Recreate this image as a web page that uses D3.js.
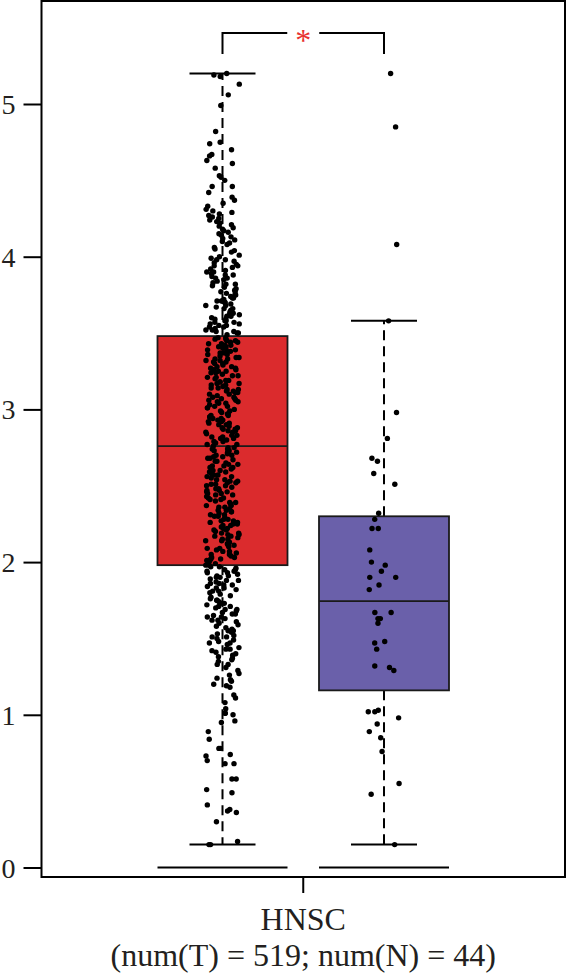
<!DOCTYPE html>
<html>
<head>
<meta charset="utf-8">
<script src="https://cdn.jsdelivr.net/npm/d3@7"></script>
<style>
  html, body { margin: 0; padding: 0; background: #fff; }
  text { font-family: "Liberation Serif", "DejaVu Serif", serif; fill: #231f20; }
</style>
</head>
<body>
<svg id="chart"></svg>
<script>
// Categories and box statistics
const groups = ["Tumor", "Normal"];
const cancerType = ["HNSC"];
const xLabelLines = ["HNSC", "(num(T) = 519; num(N) = 44)"];
const yTicks = [0, 1, 2, 3, 4, 5];
const floorValue = [0, 0];
const lowerWhisker = [0.15, 0.15];
const q1 = [1.98, 1.16];
const median = [2.76, 1.745];
const q3 = [3.48, 2.30];
const upperWhisker = [5.20, 3.58];
const signifLabel = "*";

// Tumor samples (519)
const tumorValues = [
  0.15, 0.15, 0.17, 0.30, 0.36, 0.37, 0.38, 0.41, 0.49, 0.51, 0.58, 0.58,
  0.68, 0.68, 0.70, 0.73, 0.74, 0.78, 0.78, 0.89, 0.95, 0.96, 0.84,
  1.00, 1.01, 1.01, 1.04, 1.08, 1.11, 1.13, 1.18, 1.19, 1.20,
  1.22, 1.23, 1.26, 1.27, 1.31, 1.33, 1.33, 1.35, 1.36, 1.37, 1.38, 1.39, 1.24, 1.29,
  1.40, 1.41, 1.43, 1.43, 1.44, 1.46, 1.47, 1.47, 1.48, 1.50, 1.51, 1.51,
  1.52, 1.53, 1.55, 1.55, 1.56, 1.57, 1.58, 1.59, 1.42, 1.49, 1.54, 1.60,
  1.61, 1.62, 1.62, 1.63, 1.64, 1.65, 1.66, 1.66, 1.67, 1.68, 1.69, 1.70, 1.71,
  1.71, 1.72, 1.73, 1.74, 1.75, 1.75, 1.76, 1.77, 1.78, 1.79, 1.64, 1.69, 1.73,
  1.80, 1.81, 1.81, 1.82, 1.83, 1.83, 1.84, 1.85, 1.86, 1.86, 1.87, 1.88, 1.88, 1.89,
  1.90, 1.91, 1.91, 1.92, 1.93, 1.93, 1.94, 1.95, 1.95, 1.96, 1.97, 1.97, 1.98, 1.99,
  1.85, 1.90, 1.94, 1.98,
  2.00, 2.01, 2.02, 2.02, 2.03, 2.04, 2.05, 2.05, 2.06, 2.07, 2.08, 2.09, 2.09,
  2.10, 2.11, 2.12, 2.12, 2.13, 2.14, 2.15, 2.15, 2.16, 2.17, 2.18, 2.18, 2.19,
  2.03, 2.07, 2.11, 2.14, 2.17, 2.01, 2.19,
  2.20, 2.21, 2.21, 2.22, 2.23, 2.24, 2.24, 2.25, 2.26, 2.27, 2.27, 2.28, 2.29, 2.30,
  2.30, 2.31, 2.32, 2.33, 2.33, 2.34, 2.35, 2.36, 2.36, 2.37, 2.38, 2.39, 2.39,
  2.22, 2.25, 2.28, 2.31, 2.34, 2.37, 2.26,
  2.40, 2.41, 2.41, 2.42, 2.43, 2.44, 2.44, 2.45, 2.46, 2.47, 2.47, 2.48, 2.49, 2.50,
  2.50, 2.51, 2.52, 2.53, 2.53, 2.54, 2.55, 2.56, 2.56, 2.57, 2.58, 2.59, 2.59,
  2.42, 2.45, 2.48, 2.51, 2.54, 2.57, 2.46, 2.52,
  2.60, 2.60, 2.61, 2.62, 2.62, 2.63, 2.64, 2.64, 2.65, 2.66, 2.66, 2.67, 2.68, 2.68,
  2.69, 2.70, 2.70, 2.71, 2.72, 2.72, 2.73, 2.73, 2.74, 2.74, 2.75, 2.75, 2.63, 2.69,
  2.76, 2.77, 2.77, 2.78, 2.79, 2.79,
  2.80, 2.81, 2.81, 2.82, 2.83, 2.83, 2.84, 2.85, 2.86, 2.86, 2.87, 2.88, 2.88, 2.89,
  2.90, 2.91, 2.91, 2.92, 2.93, 2.93, 2.94, 2.95, 2.95, 2.96, 2.97, 2.97, 2.98, 2.99,
  2.82, 2.85, 2.87, 2.90, 2.92, 2.94, 2.96, 2.99,
  3.00, 3.01, 3.01, 3.02, 3.03, 3.04, 3.04, 3.05, 3.06, 3.07, 3.07, 3.08, 3.09, 3.10,
  3.10, 3.11, 3.12, 3.13, 3.13, 3.14, 3.15, 3.16, 3.16, 3.17, 3.18, 3.19, 3.19,
  3.02, 3.05, 3.08, 3.11, 3.14, 3.17, 3.06, 3.12, 3.18,
  3.20, 3.21, 3.21, 3.22, 3.23, 3.24, 3.24, 3.25, 3.26, 3.27, 3.27, 3.28, 3.29, 3.30,
  3.30, 3.31, 3.32, 3.33, 3.33, 3.34, 3.35, 3.36, 3.36, 3.37, 3.38, 3.39, 3.39,
  3.22, 3.25, 3.28, 3.31, 3.34, 3.37, 3.26, 3.32, 3.38,
  3.40, 3.40, 3.41, 3.41, 3.42, 3.42, 3.43, 3.43, 3.44, 3.44, 3.45, 3.45, 3.46, 3.46, 3.47, 3.47,
  3.49, 3.50, 3.50, 3.51, 3.52, 3.52, 3.53, 3.54, 3.54, 3.55, 3.56, 3.56, 3.57, 3.57,
  3.58, 3.58, 3.59, 3.59, 3.51, 3.55,
  3.60, 3.61, 3.61, 3.62, 3.63, 3.63, 3.64, 3.65, 3.66, 3.66, 3.67, 3.68, 3.68, 3.69, 3.70,
  3.71, 3.71, 3.72, 3.73, 3.73, 3.74, 3.75, 3.75, 3.76, 3.77, 3.77, 3.78, 3.79, 3.70,
  3.80, 3.81, 3.82, 3.82, 3.83, 3.84, 3.85, 3.86, 3.86, 3.87, 3.88, 3.89, 3.90,
  3.90, 3.91, 3.92, 3.93, 3.94, 3.94, 3.95, 3.96, 3.97, 3.98, 3.98, 3.99, 3.88,
  4.00, 4.01, 4.03, 4.04, 4.05, 4.06, 4.08, 4.09, 4.10, 4.11, 4.12, 4.13, 4.14, 4.15, 4.16, 4.17, 4.18, 4.19,
  4.20, 4.21, 4.22, 4.23, 4.24, 4.25, 4.26, 4.27, 4.28, 4.29, 4.30, 4.31, 4.33, 4.35, 4.37, 4.39,
  4.46, 4.46, 4.52, 4.53, 4.58, 4.42, 4.50,
  4.61, 4.63, 4.66, 4.67, 4.74, 4.75, 4.70,
  4.82, 4.99,
  5.06, 5.13, 5.18, 5.20, 5.19
];

// Normal samples (44)
const normalValues = [
  5.20, 4.85, 4.08, 3.58,
  2.98, 2.81, 2.68, 2.66, 2.58, 2.51, 2.32, 2.28, 2.22, 2.22, 2.08, 2.00, 1.98, 1.94,
  1.90, 1.90, 1.85, 1.82,
  1.67, 1.67, 1.63, 1.60, 1.63, 1.48, 1.47, 1.43, 1.32, 1.31, 1.29,
  1.02, 1.03, 1.02, 0.98, 0.94, 0.89, 0.85, 0.76, 0.55, 0.48, 0.15
];

const width = 566, height = 980;
const frame = { left: 41.5, right: 565, top: 1, bottom: 877 };

const svg = d3.select("#chart").attr("width", width).attr("height", height);

// Scales
const y = d3.scaleLinear().domain([0, 5]).range([867.5, 104]);
const xGroup = d3.scalePoint().domain(groups).range([222.5, 384]);
const xCat = d3.scaleBand().domain(cancerType).range([frame.left, frame.right]);

const boxWidth = 130, capWidth = 66;
const fills = ["#db2b2d", "#6a60aa"];

// simple seeded generator for the horizontal jitter
function mulberry32(a) {
  return function () {
    a |= 0; a = a + 0x6D2B79F5 | 0;
    let t = Math.imul(a ^ a >>> 15, 1 | a);
    t = t + Math.imul(t ^ t >>> 7, 61 | t) ^ t;
    return ((t ^ t >>> 14) >>> 0) / 4294967296;
  };
}
const rand = mulberry32(20240521);

// Boxes
const boxes = groups.map((g, i) => ({
  g, i, lo: lowerWhisker[i], q1: q1[i], med: median[i], q3: q3[i], hi: upperWhisker[i], floor: floorValue[i]
}));

const gBox = svg.append("g");

// dashed whiskers
gBox.selectAll("line.whiskerUp")
  .data(boxes).join("line")
  .attr("x1", d => xGroup(d.g)).attr("x2", d => xGroup(d.g))
  .attr("y1", d => y(d.q3)).attr("y2", d => y(d.hi))
  .attr("stroke", "#000").attr("stroke-width", 2).attr("stroke-dasharray", "10,6");
gBox.selectAll("line.whiskerDown")
  .data(boxes).join("line")
  .attr("x1", d => xGroup(d.g)).attr("x2", d => xGroup(d.g))
  .attr("y1", d => y(d.q1)).attr("y2", d => y(d.lo))
  .attr("stroke", "#000").attr("stroke-width", 2).attr("stroke-dasharray", "10,6");

// caps
["hi", "lo"].forEach(k => {
  gBox.selectAll("line.cap" + k)
    .data(boxes).join("line")
    .attr("x1", d => xGroup(d.g) - capWidth / 2).attr("x2", d => xGroup(d.g) + capWidth / 2)
    .attr("y1", d => y(d[k])).attr("y2", d => y(d[k]))
    .attr("stroke", "#000").attr("stroke-width", 2);
});

// floor lines
gBox.selectAll("line.floor")
  .data(boxes).join("line")
  .attr("x1", d => xGroup(d.g) - boxWidth / 2).attr("x2", d => xGroup(d.g) + boxWidth / 2)
  .attr("y1", d => y(d.floor)).attr("y2", d => y(d.floor))
  .attr("stroke", "#000").attr("stroke-width", 2);

// box rects
gBox.selectAll("rect")
  .data(boxes).join("rect")
  .attr("x", d => xGroup(d.g) - boxWidth / 2)
  .attr("width", boxWidth)
  .attr("y", d => y(d.q3))
  .attr("height", d => y(d.q1) - y(d.q3))
  .attr("fill", d => fills[d.i])
  .attr("stroke", "#1a1a1a").attr("stroke-width", 1.8);

// median lines
gBox.selectAll("line.median")
  .data(boxes).join("line")
  .attr("x1", d => xGroup(d.g) - boxWidth / 2).attr("x2", d => xGroup(d.g) + boxWidth / 2)
  .attr("y1", d => y(d.med)).attr("y2", d => y(d.med))
  .attr("stroke", "#1a1a1a").attr("stroke-width", 1.8);

// jittered points
const points = [];
tumorValues.forEach(v => points.push({ g: "Tumor", v, j: (rand() * 2 - 1) * 17 }));
normalValues.forEach(v => points.push({ g: "Normal", v, j: (rand() * 2 - 1) * 16 }));

svg.append("g").selectAll("circle")
  .data(points).join("circle")
  .attr("cx", d => xGroup(d.g) + d.j)
  .attr("cy", d => y(d.v))
  .attr("r", 2.7)
  .attr("fill", "#000");

// Significance bracket
const bracketY = 33, legY = 54;
const xa = xGroup("Tumor"), xb = xGroup("Normal"), xm = (xa + xb) / 2;
const gap = 16;
const br = svg.append("g").attr("fill", "none").attr("stroke", "#000").attr("stroke-width", 2);
br.append("path").attr("d", `M${xa},${legY}V${bracketY}H${xm - gap}`);
br.append("path").attr("d", `M${xm + gap},${bracketY}H${xb}V${legY}`);
svg.append("text")
  .attr("x", xm).attr("y", bracketY + 18)
  .attr("text-anchor", "middle")
  .style("font-size", "32px")
  .style("fill", "#e8312f")
  .text(signifLabel);

// Frame
svg.append("rect")
  .attr("x", frame.left).attr("y", frame.top)
  .attr("width", frame.right - frame.left).attr("height", frame.bottom - frame.top)
  .attr("fill", "none").attr("stroke", "#000").attr("stroke-width", 2);

// Y axis
const yAxis = svg.append("g")
  .attr("transform", `translate(${frame.left},0)`)
  .call(d3.axisLeft(y).tickValues(yTicks).tickFormat(d3.format("d")).tickSize(18).tickPadding(8));
yAxis.select(".domain").remove();
yAxis.selectAll(".tick line").attr("stroke", "#000").attr("stroke-width", 2);
yAxis.selectAll(".tick text")
  .attr("font-family", null)
  .style("font-size", "28px")
  .attr("dy", "0.34em");

// X axis
const xAxis = svg.append("g")
  .attr("transform", `translate(0,${frame.bottom})`)
  .call(d3.axisBottom(xCat).tickSize(16).tickFormat(""));
xAxis.select(".domain").remove();
xAxis.selectAll(".tick line").attr("stroke", "#000").attr("stroke-width", 2);

// two-line category label, each line its own text element
xLabelLines.forEach((t, i) => {
  svg.append("text")
    .attr("text-anchor", "middle")
    .attr("x", xCat("HNSC") + xCat.bandwidth() / 2)
    .attr("y", 930 + i * 36)
    .style("font-size", "32px")
    .text(t);
});
</script>
</body>
</html>
